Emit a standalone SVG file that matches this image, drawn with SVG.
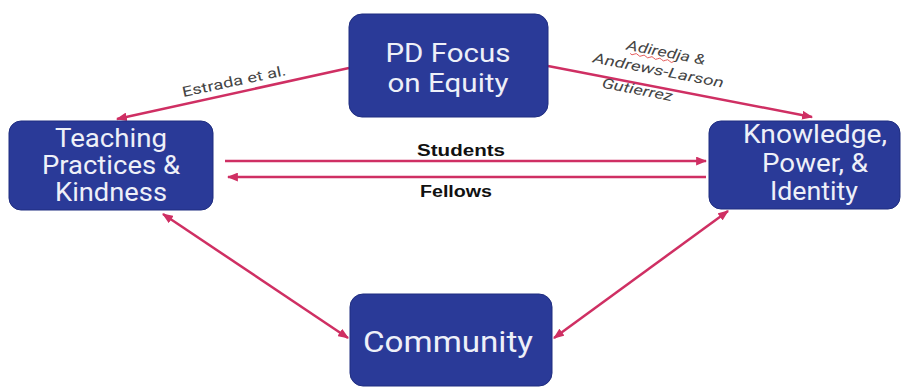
<svg xmlns="http://www.w3.org/2000/svg" width="903" height="388" viewBox="0 0 903 388">
<defs>
<marker id="ah" viewBox="0 0 10 8" refX="9" refY="4" markerWidth="11" markerHeight="9" markerUnits="userSpaceOnUse" orient="auto-start-reverse">
<path d="M0,0 L10,4 L0,8 z" fill="#cf2f63"/>
</marker>
<style>
.box{fill:#2a3a98;stroke:#1f2d80;stroke-width:1}
.bt{font-family:Roboto,"Liberation Sans",sans-serif;fill:#eef0f8;text-anchor:middle}
.ln{stroke:#cf2f63;stroke-width:2.5;fill:none}
.el{font-family:Roboto,"Liberation Sans",sans-serif;fill:#444;font-size:14px;text-anchor:middle}
.eb{font-family:"Liberation Sans",Arial,sans-serif;font-weight:bold;fill:#111;font-size:16px;text-anchor:middle}
</style>
</defs>
<rect width="903" height="388" fill="#ffffff"/>
<g id="connectors">
<path class="ln" d="M349,68 L117,119" marker-end="url(#ah)"/>
<path class="ln" d="M548,66 L812,117" marker-end="url(#ah)"/>
<path class="ln" d="M225,161 L706,161" marker-end="url(#ah)"/>
<path class="ln" d="M706,177 L228,177" marker-end="url(#ah)"/>
<path class="ln" d="M163,214 L348,338" marker-start="url(#ah)" marker-end="url(#ah)"/>
<path class="ln" d="M728,211 L554,338" marker-start="url(#ah)" marker-end="url(#ah)"/>
<text class="el" transform="translate(235,86) rotate(-12)" textLength="106" lengthAdjust="spacingAndGlyphs">Estrada et al.</text>
<g transform="rotate(11 657 78)">
<text class="el" font-style="italic" x="661" y="56" textLength="80" lengthAdjust="spacingAndGlyphs">Adiredja &amp;</text>
<path d="M626,59 q2,2 4,0 t4,0 t4,0 t4,0 t4,0 t4,0 t4,0 t4,0 t4,0 t4,0 t4,0" stroke="#e04040" stroke-width="0.8" fill="none"/>
<text class="el" font-style="italic" x="657" y="75" textLength="133" lengthAdjust="spacingAndGlyphs">Andrews-Larson</text>
<text class="el" font-style="italic" x="640" y="98" textLength="72" lengthAdjust="spacingAndGlyphs">Gutierrez</text>
</g>
<text class="eb" x="461" y="156" textLength="88" lengthAdjust="spacingAndGlyphs">Students</text>
<text class="eb" x="456" y="197" textLength="72" lengthAdjust="spacingAndGlyphs">Fellows</text>
</g>
<g id="pd">
<rect class="box" x="349" y="14" width="199" height="103" rx="13"/>
<text class="bt" font-size="26" x="448" y="62" textLength="125" lengthAdjust="spacingAndGlyphs">PD Focus</text>
<text class="bt" font-size="26" x="448" y="92" textLength="121" lengthAdjust="spacingAndGlyphs">on Equity</text>
</g>
<g id="teaching">
<rect class="box" x="9" y="121" width="204" height="89" rx="12"/>
<text class="bt" font-size="25" x="111" y="147" textLength="112" lengthAdjust="spacingAndGlyphs">Teaching</text>
<text class="bt" font-size="25" x="111" y="174" textLength="138" lengthAdjust="spacingAndGlyphs">Practices &amp;</text>
<text class="bt" font-size="25" x="111" y="201" textLength="112" lengthAdjust="spacingAndGlyphs">Kindness</text>
</g>
<g id="knowledge">
<rect class="box" x="709" y="121" width="191" height="88" rx="12"/>
<text class="bt" font-size="25" x="815" y="143" textLength="144" lengthAdjust="spacingAndGlyphs">Knowledge,</text>
<text class="bt" font-size="25" x="815" y="172" textLength="106" lengthAdjust="spacingAndGlyphs">Power, &amp;</text>
<text class="bt" font-size="25" x="814" y="200" textLength="88" lengthAdjust="spacingAndGlyphs">Identity</text>
</g>
<g id="community">
<rect class="box" x="350" y="294" width="202" height="92" rx="13"/>
<text class="bt" font-size="30" x="448" y="352" textLength="170" lengthAdjust="spacingAndGlyphs">Community</text>
</g>
</svg>
